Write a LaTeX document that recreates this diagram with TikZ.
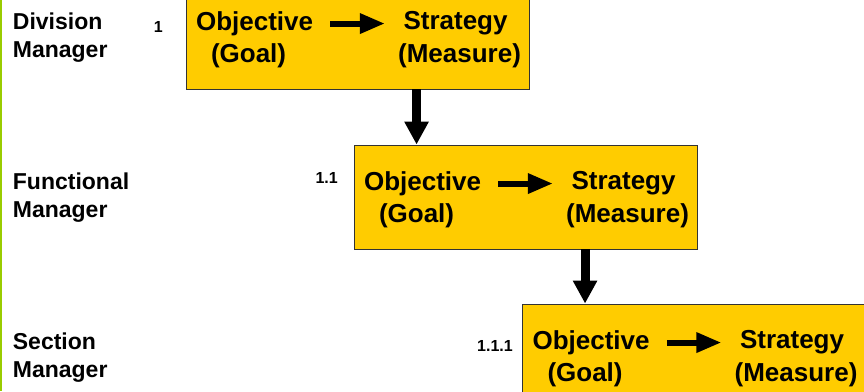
\documentclass[tikz,border=0pt]{standalone}
\usepackage{fontspec}
\setmainfont{Liberation Sans}
\usepackage{tikz}
\usetikzlibrary{arrows.meta}

\definecolor{goalyellow}{HTML}{FFCC00}
\definecolor{bargreen}{HTML}{99CC00}

\begin{document}
\begin{tikzpicture}[x=1pt,y=1pt]
\tikzstyle{goalbox}=[draw=black!80, line width=0.9pt, fill=goalyellow, minimum width=343pt, minimum height=104pt, inner sep=0pt]
\tikzstyle{boxtext}=[font=\fontsize{26}{31}\selectfont\bfseries, inner sep=0pt]
\tikzstyle{leveltext}=[font=\fontsize{23}{28}\selectfont\bfseries, align=left, anchor=north west, inner sep=0pt]
\tikzstyle{numtext}=[font=\fontsize{16}{19}\selectfont\bfseries, anchor=east, inner sep=0pt]
\tikzstyle{flowarrow}=[line width=6pt, -{Triangle[length=25pt,width=19pt]}, shorten <=17pt, shorten >=13pt]
\tikzstyle{downarrow}=[line width=9pt, -{Triangle[length=23pt,width=23pt]}]
\clip (0,0) rectangle (864,-391);
\fill [bargreen] (0,0) rectangle (2,-391);
% levels
\node [leveltext] (lvl1) at (12.7,-13) {Division\\Manager};
\node [leveltext] (lvl2) at (12.7,-173) {Functional\\Manager};
\node [leveltext] (lvl3) at (12.7,-333) {Section\\Manager};
% boxes
\node [goalbox] (box1) at (357.5,-37) {};
\node [goalbox] (box2) at (525.5,-197) {};
\node [goalbox] (box3) at (694,-356) {};
\node [numtext] (num1) at (163,-26.5) {1};
\node [numtext] (num2) at (338,-178) {1.1};
\node [numtext] (num3) at (513,-346) {1.1.1};
% box 1
\node [boxtext] (obj1) at ([shift={(69,-39)}]box1.north west) {Objective};
\node [boxtext] (goal1) at ([shift={(63,-71)}]box1.north west) {(Goal)};
\node [boxtext] (str1) at ([shift={(270,-39)}]box1.north west) {Strategy};
\node [boxtext] (meas1) at ([shift={(274,-71)}]box1.north west) {(Measure)};
\draw [flowarrow] (obj1.east) -- (obj1.east -| meas1.west);
% box 2
\node [boxtext] (obj2) at ([shift={(69,-39)}]box2.north west) {Objective};
\node [boxtext] (goal2) at ([shift={(63,-71)}]box2.north west) {(Goal)};
\node [boxtext] (str2) at ([shift={(270,-39)}]box2.north west) {Strategy};
\node [boxtext] (meas2) at ([shift={(274,-71)}]box2.north west) {(Measure)};
\draw [flowarrow] (obj2.east) -- (obj2.east -| meas2.west);
% box 3
\node [boxtext] (obj3) at ([shift={(69,-39)}]box3.north west) {Objective};
\node [boxtext] (goal3) at ([shift={(63,-71)}]box3.north west) {(Goal)};
\node [boxtext] (str3) at ([shift={(270,-39)}]box3.north west) {Strategy};
\node [boxtext] (meas3) at ([shift={(274,-71)}]box3.north west) {(Measure)};
\draw [flowarrow] (obj3.east) -- (obj3.east -| meas3.west);
% between levels
\draw [downarrow] (goal2 |- box1.south) -- (goal2 |- box2.north);
\draw [downarrow] (goal3 |- box2.south) -- (goal3 |- box3.north);
\end{tikzpicture}
\end{document}
